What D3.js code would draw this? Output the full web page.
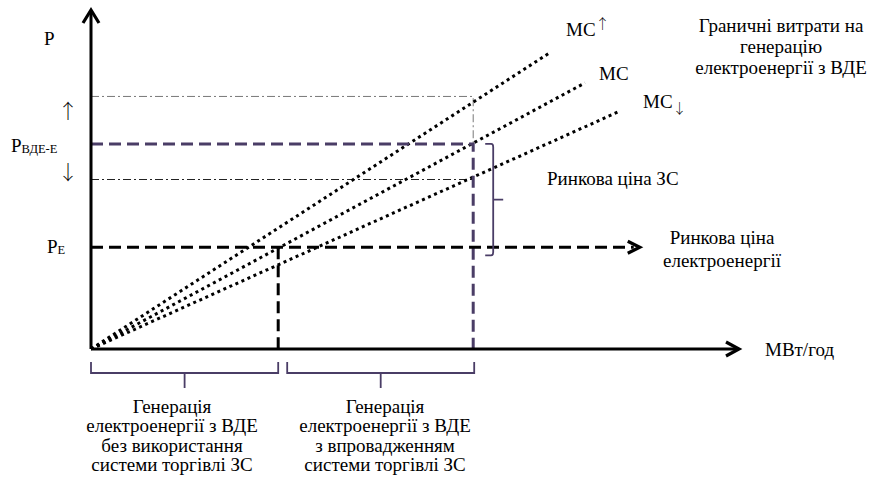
<!DOCTYPE html>
<html><head><meta charset="utf-8">
<script src="https://cdn.jsdelivr.net/npm/d3@7"></script>
</head><body style="margin:0"><svg id="c" width="877" height="477" font-family="Liberation Serif" style="display:block"></svg>
<script>
// ---- data (conceptual units 0..100) ----
const mcLabels = ["MC", "MC", "MC"];
const mcMarks = ["↑", "", "↓"];
const mcEndQ = [70.5, 76, 81.4];
const mcEndP = [87.3, 78.5, 70.2];
const priceNames = ["up", "vde", "down", "e"];
const priceValues = [74.5, 60.5, 50, 30];
const quantityValues = [28.8, 58.8];
const axisEnd = [100, 100];
const pEArrowQ = 83.5;

const svg = d3.select("#c");
const x = d3.scaleLinear().domain([0, 100]).range([91, 741]);
const y = d3.scaleLinear().domain([0, 100]).range([349, 10]);
const purple = "#4a3d66";
const SERIF = "Liberation Serif";
const ARROWF = "Noto Serif CJK SC";
const P = {}; priceNames.forEach((n, i) => P[n] = priceValues[i]);
const [q1, q2] = quantityValues;
const line = d3.line().x(d => x(d[0])).y(d => y(d[1]));

function path(pts, stroke, w, dash, cap) {
  return svg.append("path").attr("d", line(pts)).attr("fill", "none")
    .attr("stroke", stroke).attr("stroke-width", w)
    .attr("stroke-dasharray", dash || null).attr("stroke-linecap", cap || "butt");
}

// dash-dot guide lines
path([[0, P.up], [q2, P.up], [q2, P.vde]], "#777", 1, "8,3,2,3");
path([[0, P.down], [q2, P.down]], "#222", 1, "8,3,2,3");

// MC lines (dotted)
mcEndQ.forEach((q, i) => path([[0, 0], [q, mcEndP[i]]], "#000", 3, "3,3.6"));

// purple dashed
path([[0, P.vde], [q2, P.vde], [q2, 0]], purple, 3, "12,6");
// black dashed P_E with arrow
path([[0, P.e], [pEArrowQ, P.e]], "#000", 3, "12,6");
path([[q1, P.e], [q1, 0]], "#000", 3, "12,6");
{
  const tx = x(pEArrowQ) + 6, ty = y(P.e);
  svg.append("path").attr("d", `M${tx - 12},${ty - 6}L${tx},${ty}L${tx - 12},${ty + 6}`)
    .attr("fill", "none").attr("stroke", "#000").attr("stroke-width", 3.2);
}

// axes
path([[0, 0], [0, axisEnd[1] - 0.5]], "#000", 3);
path([[0, 0], [axisEnd[0] - 0.3, 0]], "#000", 3);
{
  const ox = x(0), ty = y(axisEnd[1]);
  svg.append("path").attr("d", `M${ox - 8},${ty + 13}L${ox},${ty}L${ox + 8},${ty + 13}`)
    .attr("fill", "none").attr("stroke", "#000").attr("stroke-width", 3.2);
  const tx = x(axisEnd[0]) - 2, oy = y(0);
  svg.append("path").attr("d", `M${tx - 13},${oy - 7}L${tx},${oy}L${tx - 13},${oy + 7}`)
    .attr("fill", "none").attr("stroke", "#000").attr("stroke-width", 3.2);
}

// right brace (purple)
{
  const bx = x(q2) + 12, t = y(P.vde), b = y(P.e) + 8, m = (t + b) / 2;
  svg.append("path").attr("d", `M${bx},${t}H${bx + 6}Q${bx + 8},${t} ${bx + 8},${t + 3}V${b - 3}Q${bx + 8},${b} ${bx + 6},${b}H${bx}M${bx + 8},${m}H${bx + 18}`)
    .attr("fill", "none").attr("stroke", purple).attr("stroke-width", 1.8);
}

// bottom brackets
function bracket(xa, xb) {
  const t = y(0) + 13, b = y(0) + 24, c = (xa + xb) / 2;
  svg.append("path").attr("d", `M${xa},${t}V${b}H${xb}V${t}M${c},${b}V${b + 15}`)
    .attr("fill", "none").attr("stroke", purple).attr("stroke-width", 1.8);
}
bracket(x(0), x(q1));
bracket(x(q1) + 9, x(q2) + 1);

// texts
const fs = 19;
function txt(s, tx, ty, anchor, size) {
  return svg.append("text").attr("x", tx).attr("y", ty).attr("text-anchor", anchor || "start")
    .attr("font-size", size || fs).attr("fill", "#000")
    .style("font-family", `"${SERIF}"`).text(s);
}
txt("P", 44, 45);
{
  const t = txt("P", 11, 152);
  t.append("tspan").attr("font-size", 12.5).attr("dy", 1).text("ВДЕ-Е");
  const e = txt("P", 47, 253);
  e.append("tspan").attr("font-size", 12.5).attr("dy", 1).text("E");
}
function arrowText(s, cx, cy) {
  svg.append("text").attr("x", cx).attr("y", cy)
    .attr("text-anchor", "middle").attr("font-size", 20).attr("fill", "#000")
    .style("font-family", `"${ARROWF}"`).text(s);
}
arrowText("↑", 68, 119);
arrowText("↓", 68, 180);

// MC labels
const mcLabelPos = [[566, 36], [599, 80], [643, 108]];
mcLabels.forEach((l, i) => {
  const t = txt(l, mcLabelPos[i][0], mcLabelPos[i][1]);
  if (mcMarks[i]) {
    t.append("tspan").attr("font-size", 14).style("font-family", `"${ARROWF}"`)
      .attr("dy", i === 0 ? -7 : 5).text(mcMarks[i]);
  }
});

["Граничні витрати на", "генерацію", "електроенергії з ВДЕ"].forEach((s, i) => txt(s, 781, 32 + i * 21, "middle"));
txt("Ринкова ціна ЗС", 547, 185);
["Ринкова ціна", "електроенергії"].forEach((s, i) => txt(s, 722, 244 + i * 23, "middle"));
txt("МВт/год", 765, 356);

["Генерація", "електроенергії з ВДЕ", "без використання", "системи торгівлі ЗС"].forEach((s, i) => txt(s, 172, 413 + i * 19.3, "middle"));
["Генерація", "електроенергії з ВДЕ", "з впровадженням", "системи торгівлі ЗС"].forEach((s, i) => txt(s, 385, 413 + i * 19.3, "middle"));
</script></body></html>
